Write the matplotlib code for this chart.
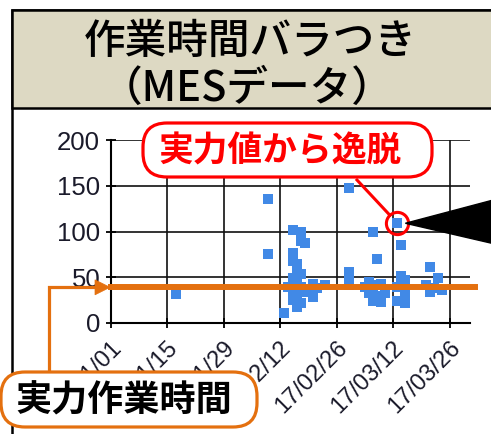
import matplotlib
matplotlib.use("Agg")
import matplotlib.pyplot as plt
import matplotlib.dates as mdates
import matplotlib.transforms as mtransforms
from matplotlib.patches import Rectangle, FancyBboxPatch, Polygon
from matplotlib.lines import Line2D
import numpy as np

# ---------------- data ----------------
title_lines = ["作業時間バラつき", "（MESデータ）"]
callout_text = "実力値から逸脱"
label_text = "実力作業時間"

tick_dates = ["2017-01-01", "2017-01-15", "2017-01-29", "2017-02-12",
              "2017-02-26", "2017-03-12", "2017-03-26"]
tick_labels = ["17/01/01", "17/01/15", "17/01/29", "17/02/12",
               "17/02/26", "17/03/12", "17/03/26"]
y_ticks = [0, 50, 100, 150, 200]
x_limits = ["2017-01-01", "2017-03-31"]
y_limits = [0, 200]

baseline_value = 39           # 実力作業時間
outlier_date = "2017-03-13"   # 実力値から逸脱
outlier_value = 109

point_dates = [
    "2017-01-17",
    "2017-02-09", "2017-02-09", "2017-02-13",
    "2017-02-15", "2017-02-17", "2017-02-18", "2017-02-17",
    "2017-02-15", "2017-02-15", "2017-02-16", "2017-02-15",
    "2017-02-16", "2017-02-14", "2017-02-16", "2017-02-17",
    "2017-02-15", "2017-02-16", "2017-02-17", "2017-02-16",
    "2017-02-17", "2017-02-18", "2017-02-16", "2017-02-15",
    "2017-02-20", "2017-02-20", "2017-02-20", "2017-02-23", "2017-02-21",
    "2017-03-01", "2017-03-01", "2017-03-01", "2017-03-01",
    "2017-03-07", "2017-03-08",
    "2017-03-06", "2017-03-08", "2017-03-09", "2017-03-06", "2017-03-08",
    "2017-03-10", "2017-03-07", "2017-03-09", "2017-03-05", "2017-03-07",
    "2017-03-13", "2017-03-14",
    "2017-03-14", "2017-03-15", "2017-03-13", "2017-03-15", "2017-03-15",
    "2017-03-13", "2017-03-15", "2017-03-14",
    "2017-03-21", "2017-03-23", "2017-03-20", "2017-03-22", "2017-03-24",
    "2017-03-21",
]
point_values = [
    32,
    136, 75, 11,
    102, 100, 87, 90,
    77, 68, 58, 49,
    43, 39, 65, 54,
    34, 28, 22, 17,
    39, 34, 46, 25,
    43, 34, 28, 41, 38,
    147, 56, 47, 41,
    99, 70,
    45, 41, 43, 33, 29,
    33, 24, 23, 39, 36,
    109, 85,
    51, 47, 39, 34, 27,
    24, 22, 43,
    61, 49, 41, 38, 36,
    34,
]

# ---------------- styles ----------------
W, H = 491, 434
DPI = 100
BLUE = "#4189E6"
ORANGE = "#E4700F"
RED = "#FF0000"
BEIGE = "#DDD9C3"
JP = ["Noto Sans CJK JP", "DejaVu Sans"]
NUM = ["Liberation Sans", "DejaVu Sans"]

fig = plt.figure(figsize=(W / DPI, H / DPI), dpi=DPI)
fig.patch.set_facecolor("white")
PX = mtransforms.Affine2D().scale(1.0 / DPI) + fig.dpi_scale_trans


def yy(y_top):
    return H - y_top


# outer frame and title band
fig.add_artist(Rectangle((12, -60), 700, H - 10 + 60, transform=PX,
                         facecolor="none", edgecolor="black", lw=1.8, zorder=1))
fig.add_artist(Rectangle((12, yy(108)), 700, 98, transform=PX,
                         facecolor=BEIGE, edgecolor="black", lw=1.8, zorder=2))
fig.text(250 / W, yy(41) / H, title_lines[0], fontsize=30, family=JP,
         weight="medium", ha="center", va="center", color="black", zorder=3)
fig.text(247 / W, yy(88) / H, title_lines[1], fontsize=30, family=JP,
         weight="medium", ha="center", va="center", color="black", zorder=3)

# ---------------- axes ----------------
ax = fig.add_axes([111 / W, yy(323) / H, (470 - 111) / W, (323 - 140) / H])
ax.set_facecolor("none")
xd = mdates.datestr2num(point_dates)
ax.set_xlim(mdates.datestr2num(x_limits))
ax.set_ylim(y_limits)
ax.set_xticks(mdates.datestr2num(tick_dates))
ax.set_yticks(y_ticks)
ax.set_axisbelow(True)
ax.grid(True, color="#111111", lw=1.2)
for s in ["top", "right"]:
    ax.spines[s].set_visible(False)
for s in ["left", "bottom"]:
    ax.spines[s].set_color("black")
    ax.spines[s].set_linewidth(1.5)
ax.tick_params(axis="both", direction="inout", length=7.5, width=1.3,
               color="black", labelcolor="#1a1a2a")
ax.tick_params(axis="y", labelsize=18.5, pad=4)
ax.set_yticklabels([str(v) for v in y_ticks], family=NUM)
ax.set_xticklabels(tick_labels, rotation=45, ha="right", va="center",
                   rotation_mode="anchor", fontsize=17, family=NUM)
ax.tick_params(axis="x", pad=4)
off = mtransforms.ScaledTranslation(5 / 72, -8 / 72, fig.dpi_scale_trans)
for lab in ax.get_xticklabels():
    lab.set_transform(lab.get_transform() + off)

ax.plot(xd, point_values, "s", color=BLUE, ms=7.2, mew=0, zorder=2,
        clip_on=False)
ax.axhline(baseline_value, xmin=0, xmax=1.014, color=ORANGE, lw=4.3,
           zorder=3, clip_on=False)

# outlier circle
ox = mdates.datestr2num(outlier_date)
ax.plot([ox], [outlier_value], "o", ms=16, mfc="none", mec=RED, mew=2.2,
        zorder=4, clip_on=False)

# pixel positions derived from the axes
cx, cy = ax.transData.transform((ox, outlier_value))
bx, by = ax.transData.transform((ax.get_xlim()[0], baseline_value))

# black wedge pointing at the outlier
fig.add_artist(Polygon([(cx + 8, cy), (W + 5, cy + 24), (W + 5, cy - 21)],
                       closed=True, transform=PX, facecolor="black",
                       edgecolor="black", zorder=6))

# red callout
x0, y0 = 357, yy(180)
dx, dy = cx - x0, cy - y0
d = np.hypot(dx, dy)
r = 11
fig.add_artist(Line2D([x0, cx - dx / d * r], [y0, cy - dy / d * r],
                      transform=PX, color=RED, lw=2.2, zorder=6))
fig.add_artist(FancyBboxPatch((143, yy(177)), 289, 54, transform=PX,
                              boxstyle="round,pad=0,rounding_size=24",
                              facecolor="white", edgecolor=RED, lw=2.3,
                              zorder=7))
fig.text(280 / W, yy(151) / H, callout_text, fontsize=25, weight="bold",
         family=JP, color=RED, ha="center", va="center", zorder=8)

# orange connector from label to baseline
lx = 49
fig.add_artist(Line2D([lx, lx, bx - 14], [yy(372), by, by], transform=PX,
                      color=ORANGE, lw=2.3, zorder=6,
                      solid_joinstyle="miter"))
fig.add_artist(Polygon([(bx - 1, by), (bx - 16, by + 7.5), (bx - 16, by - 7.5)],
                       closed=True, transform=PX, facecolor=ORANGE,
                       edgecolor=ORANGE, lw=0.5, zorder=6))
fig.add_artist(FancyBboxPatch((1, yy(427)), 256, 55, transform=PX,
                              boxstyle="round,pad=0,rounding_size=24",
                              facecolor="white", edgecolor=ORANGE, lw=2.3,
                              zorder=7))
fig.text(124 / W, yy(401) / H, label_text, fontsize=26, weight="bold",
         family=JP, color="black", ha="center", va="center", zorder=8)

fig.savefig("out.png", dpi=DPI, facecolor="white")
